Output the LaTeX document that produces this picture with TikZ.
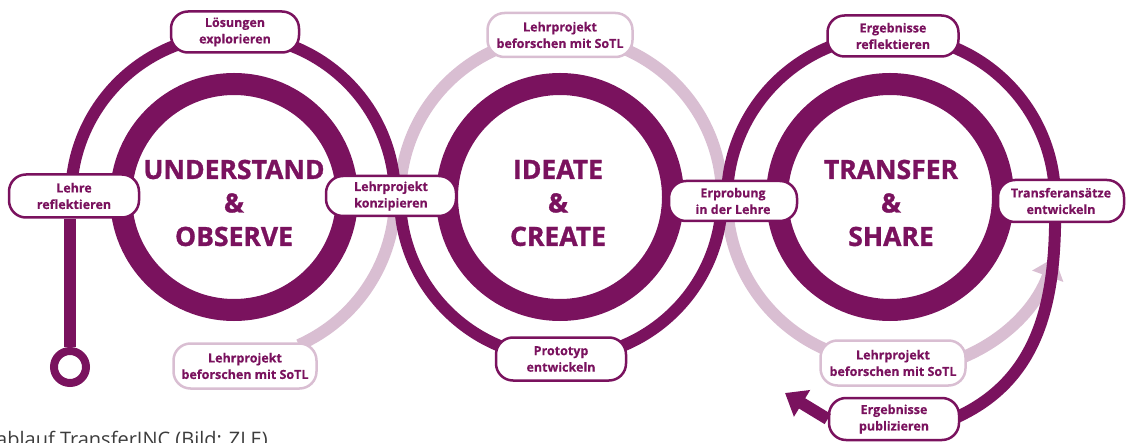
\documentclass[tikz,border=0pt]{standalone}
\usepackage{fontspec}
\setmainfont{Open Sans}
\usetikzlibrary{arrows.meta}
\definecolor{dk}{RGB}{122,18,94}
\definecolor{lt}{RGB}{217,190,210}
\definecolor{capgray}{RGB}{60,60,60}
\begin{document}
\begin{tikzpicture}[x=1pt,y=1pt,
  dkline/.style={draw=dk, line width=12pt},
  ltline/.style={draw=lt, line width=12pt},
  ring/.style={circle, draw=dk, line width=22pt, minimum size=226pt, inner sep=0pt},
  head/.style={font=\bfseries\fontsize{26.5}{33.5}\selectfont\addfontfeature{FakeBold=1.2}, text=dk, align=center, inner sep=0pt},
  lbl/.style={draw=dk, line width=2.5pt, fill=white, rounded corners=17pt,
    font=\bfseries\fontsize{12.5}{16.5}\selectfont\addfontfeature{FakeBold=0.3}, text=dk, align=center, inner sep=0pt},
  lbllt/.style={lbl, draw=lt},
]
\useasboundingbox (0,0) rectangle (1126,442);
\clip (0,0) rectangle (1126,442);

% outer rings, light parts
\draw[ltline] (395,245) arc[start angle=0, end angle=-66, radius=162];
\draw[ltline] (400,245) arc[start angle=180, end angle=0, radius=161];
\draw[ltline] (727,243) arc[start angle=180, end angle=270, radius=164];
\draw[ltline, -{Triangle[width=32pt,length=20pt]}] (875.9,70.7) arc[start angle=265, end angle=340, radius=174];

% outer rings, dark parts
\draw[dkline] (71,245) arc[start angle=180, end angle=0, radius=162];
\draw[dkline] (400,245) arc[start angle=180, end angle=360, radius=161];
\draw[dkline] (727,243) arc[start angle=180, end angle=0, radius=164]
   .. controls (1057,142) and (1040,62) .. (955,24);

% start ring
\node[circle, draw=dk, line width=8pt, minimum size=32pt, inner sep=0pt] (start) at (70,75) {};

% inner rings
\node[ring] (r1) at (234,245) {};
\node[ring] (r2) at (560,245) {};
\node[ring] (r3) at (890,245) {};

\node[head] (h1) at (234,239) {UNDERSTAND\\\&\\OBSERVE};
\node[head] (h2) at (558,239) {IDEATE\\\&\\CREATE};
\node[head] (h3) at (891,239) {TRANSFER\\\&\\SHARE};

% labels
\node[lbl, minimum width=128pt, minimum height=41pt] (loes) at (235,410) {Lösungen\\explorieren};
\node[lbl, minimum width=130pt, minimum height=43pt] (lehre) at (74,246) {Lehre\\reflektieren};
\node[lbl, minimum width=130pt, minimum height=40pt] (konz) at (391,246) {Lehrprojekt\\konzipieren};
\node[lbllt, minimum width=143pt, minimum height=45pt] (sotlA) at (245,76) {Lehrprojekt\\beforschen mit SoTL};
\node[lbllt, minimum width=145pt, minimum height=44pt] (sotlB) at (560,407) {Lehrprojekt\\beforschen mit SoTL};
\node[lbl, minimum width=130pt, minimum height=43pt] (proto) at (561,83) {Prototyp\\entwickeln};
\node[lbl, minimum width=128pt, minimum height=40pt] (erprob) at (733,241) {Erprobung\\in der Lehre};
\node[lbl, minimum width=131pt, minimum height=41pt] (ergA) at (893,406) {Ergebnisse\\reflektieren};
\node[lbl, minimum width=126pt, minimum height=42pt] (trans) at (1061,241) {Transferansätze\\entwickeln};
\node[lbllt, minimum width=145pt, minimum height=45pt] (sotlC) at (893,79) {Lehrprojekt\\beforschen mit SoTL};
\node[lbl, minimum width=130pt, minimum height=42pt] (publ) at (894,23) {Ergebnisse\\publizieren};

% bar from start ring to Lehre reflektieren
\draw[dk, line width=12pt] (start.north) -- (start.north |- lehre.south);

% dark arrow out of publizieren
\coordinate (tipD) at (785,49);
\draw[dk, line width=12pt, -{Triangle[width=30pt,length=20pt]}] (publ.west) -- (tipD);

% caption (cut off at the lower edge, as in the reference)
\node[anchor=base west, inner sep=0pt, font=\fontsize{20}{24}\selectfont, text=capgray] (cap) at (-4,-4) {ablauf TransferINC (Bild: ZLE)};
\end{tikzpicture}
\end{document}
